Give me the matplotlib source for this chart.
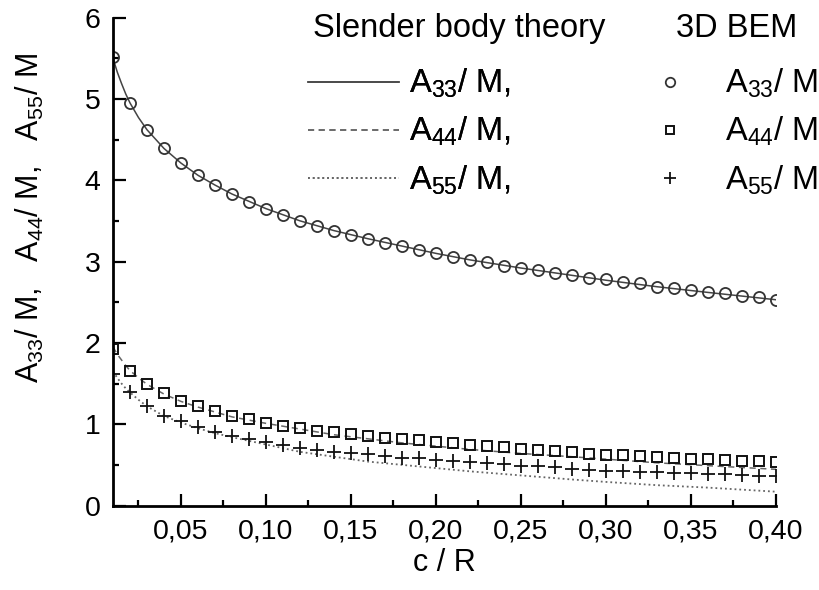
import matplotlib
matplotlib.use("Agg")
import matplotlib.pyplot as plt
import numpy as np

plt.rcParams["font.family"] = ["Liberation Sans", "DejaVu Sans"]
plt.rcParams["mathtext.fontset"] = "custom"
plt.rcParams["mathtext.rm"] = "Liberation Sans"
plt.rcParams["mathtext.it"] = "Liberation Sans"

# slender body theory curves
sbt_x = [0.010, 0.0125, 0.015, 0.0175, 0.02, 0.025, 0.03, 0.04, 0.05, 0.06, 0.07,
         0.08, 0.10, 0.12, 0.14, 0.16, 0.18, 0.20, 0.22, 0.25, 0.28, 0.30, 0.33,
         0.36, 0.40]
sbt_a33 = [5.50, 5.33, 5.19, 5.06, 4.95, 4.77, 4.62, 4.39, 4.21, 4.06, 3.94,
           3.83, 3.65, 3.50, 3.38, 3.28, 3.19, 3.10, 3.02, 2.92, 2.83, 2.77, 2.69,
           2.62, 2.53]
sbt_a44 = [1.95, 1.86, 1.79, 1.72, 1.66, 1.57, 1.49, 1.37, 1.28, 1.21, 1.15,
           1.09, 1.01, 0.94, 0.87, 0.82, 0.77, 0.73, 0.69, 0.64, 0.60, 0.57, 0.525,
           0.49, 0.445]
sbt_a55 = [1.65, 1.57, 1.50, 1.44, 1.39, 1.30, 1.22, 1.10, 1.02, 0.95, 0.89,
           0.84, 0.75, 0.66, 0.60, 0.54, 0.50, 0.46, 0.42, 0.37, 0.32, 0.29, 0.25,
           0.22, 0.17]

# 3D BEM points, c/R = 0.01 ... 0.40
bem_x = [round(0.01 * i, 2) for i in range(1, 41)]
bem_a33 = [5.51, 4.95, 4.62, 4.39, 4.21, 4.06, 3.94, 3.83, 3.73, 3.65,
           3.57, 3.50, 3.44, 3.38, 3.33, 3.28, 3.23, 3.19, 3.14, 3.10,
           3.06, 3.02, 2.99, 2.95, 2.92, 2.89, 2.86, 2.84, 2.80, 2.78,
           2.75, 2.73, 2.69, 2.67, 2.65, 2.63, 2.61, 2.58, 2.56, 2.53]
bem_a44 = [1.93, 1.66, 1.50, 1.38, 1.29, 1.22, 1.16, 1.10, 1.06, 1.02,
           0.98, 0.95, 0.92, 0.90, 0.88, 0.855, 0.835, 0.815, 0.80, 0.78,
           0.765, 0.75, 0.73, 0.715, 0.695, 0.68, 0.675, 0.655, 0.635, 0.625,
           0.62, 0.61, 0.595, 0.59, 0.575, 0.57, 0.56, 0.55, 0.55, 0.54]
bem_a55 = [1.62, 1.39, 1.22, 1.10, 1.04, 0.97, 0.90, 0.86, 0.82, 0.78,
           0.745, 0.71, 0.68, 0.655, 0.64, 0.63, 0.61, 0.59, 0.58, 0.56,
           0.55, 0.53, 0.52, 0.51, 0.49, 0.48, 0.47, 0.455, 0.44, 0.425,
           0.42, 0.415, 0.41, 0.40, 0.395, 0.39, 0.385, 0.375, 0.365, 0.36]

xticks = [0.05, 0.10, 0.15, 0.20, 0.25, 0.30, 0.35, 0.40]
yticks = [0, 1, 2, 3, 4, 5, 6]

labels = [r"$\mathregular{A_{33}}$/ M", r"$\mathregular{A_{44}}$/ M",
          r"$\mathregular{A_{55}}$/ M"]

fig = plt.figure(figsize=(8.2, 5.9), dpi=100)
ax = fig.add_axes([0.1378, 0.1432, 0.8085, 0.8271])

l1, = ax.plot(sbt_x, sbt_a33, "-", color="#444444", lw=1.1, label=labels[0] + ",")
l2, = ax.plot(sbt_x, sbt_a44, "--", color="#666666", lw=1.1, dashes=(4, 3),
              label=labels[1] + ",")
l3, = ax.plot(sbt_x, sbt_a55, ":", color="#666666", lw=1.3, label=labels[2] + ",")

m1, = ax.plot(bem_x, bem_a33, "o", ms=8, mfc="none", mec="#333333", mew=1.3,
              label=labels[0])
m2, = ax.plot(bem_x, bem_a44, "s", ms=7.5, mfc="none", mec="#111111", mew=1.4,
              label=labels[1])
m3, = ax.plot(bem_x, bem_a55, "+", ms=10, mec="#111111", mew=1.3,
              label=labels[2])

ax.set_xlim(0.01, 0.40)
ax.set_ylim(0, 6)
ax.set_xticks(xticks)
ax.set_xticklabels([f"{v:.2f}".replace(".", ",") for v in xticks])
ax.set_xticks(np.arange(0.025, 0.40, 0.05), minor=True)
ax.set_yticks(yticks)
ax.set_yticks(np.arange(0.5, 6, 1.0), minor=True)

for side in ["top", "right"]:
    ax.spines[side].set_visible(False)
for side in ["left", "bottom"]:
    ax.spines[side].set_linewidth(2)

ax.tick_params(which="both", direction="in", width=1.6, labelsize=20.5)
ax.tick_params(which="major", length=9)
ax.tick_params(which="minor", length=4.5)
ax.tick_params(axis="x", pad=9)
ax.tick_params(axis="y", pad=9)

ax.set_xlabel("c / R", fontsize=22, labelpad=3)
fig.text(30 / 820, 1 - 218 / 590,
         r"$\mathregular{A_{33}}$/ M,   $\mathregular{A_{44}}$/ M,   $\mathregular{A_{55}}$/ M",
         rotation=90, ha="center", va="center", fontsize=22)

# legend headings
fig.text(313 / 820, 1 - 37 / 590, "Slender body theory", fontsize=23.5,
         ha="left", va="baseline")
fig.text(676 / 820, 1 - 37 / 590, "3D BEM", fontsize=23.5,
         ha="left", va="baseline")

leg1 = fig.legend(handles=[l1, l2, l3], loc="upper left",
                  bbox_to_anchor=(308 / 820, 1 - 67 / 590), frameon=False,
                  fontsize=23.5, handlelength=2.8, handletextpad=0.3,
                  labelspacing=0.45, borderpad=0, borderaxespad=0)
leg2 = fig.legend(handles=[m1, m2, m3], loc="upper left",
                  bbox_to_anchor=(660 / 820, 1 - 67 / 590), frameon=False,
                  fontsize=23.5, handlelength=0.6, handletextpad=1.4,
                  labelspacing=0.45, borderpad=0, borderaxespad=0,
                  markerscale=0.85)
fig.add_artist(leg1)

fig.savefig("out.png", dpi=100)
